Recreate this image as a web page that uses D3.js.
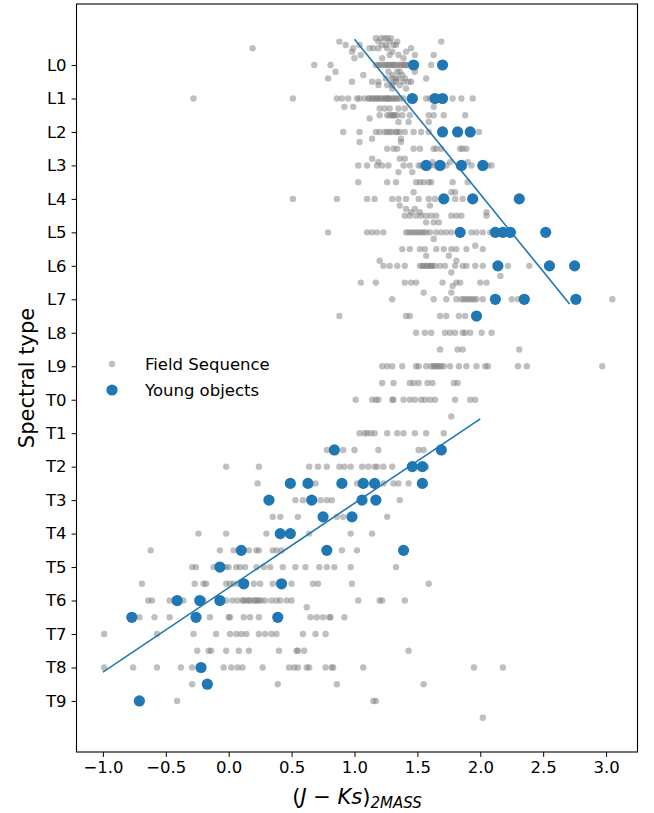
<!DOCTYPE html>
<html>
<head>
<meta charset="utf-8">
<script src="https://cdn.jsdelivr.net/npm/d3@7"></script>
<style>
  body { margin: 0; background: #fff; }
  text { font-family: "DejaVu Sans", sans-serif; }
</style>
</head>
<body>
<div id="chart"></div>
<script>
// spectral type labels, index 0 = L0 ... 19 = T9
var spectralLabels = ["L0","L1","L2","L3","L4","L5","L6","L7","L8","L9",
                      "T0","T1","T2","T3","T4","T5","T6","T7","T8","T9"];
var xTicks = [-1.0, -0.5, 0.0, 0.5, 1.0, 1.5, 2.0, 2.5, 3.0];

// field sequence: [spectral type index, list of (J-Ks) colours]
var fieldRows = [
  [-0.8, [1.17, 1.21, 1.24, 1.26, 1.29]],
  [-0.7, [0.88, 1.28, 1.34, 1.69, 1.19]],
  [-0.6, [0.93, 1.04, 1.31, 1.22, 1.25, 1.33]],
  [-0.5, [0.19, 0.99, 1.12, 1.19, 1.26, 1.45, 1.15]],
  [-0.4, [0.98, 1.41, 1.30]],
  [-0.3, [1.28, 1.35, 1.48, 1.63, 1.05]],
  [-0.2, [1.00, 1.39, 1.22]],
  [0, [0.68, 0.81, 1.17, 1.19, 1.20, 1.22, 1.24, 1.25, 1.27, 1.28, 1.30, 1.31, 1.32, 1.34, 1.36,
       1.37, 1.39, 1.40, 1.41, 1.43, 1.61]],
  [0.2, [0.85, 1.34, 1.36, 1.48, 1.27]],
  [0.3, [1.07, 1.30, 1.38]],
  [0.4, [0.79, 1.35, 1.57, 1.25, 1.30, 1.33, 1.40]],
  [0.5, [0.98, 1.14, 1.19, 1.39, 1.43, 1.45, 1.31, 1.33]],
  [0.6, [1.19, 1.26, 1.30, 1.36]],
  [0.7, [1.30, 1.41]],
  [1, [-0.28, 0.51, 0.86, 0.90, 0.95, 1.02, 1.04, 1.08, 1.11, 1.12, 1.14, 1.15, 1.17, 1.18, 1.19,
       1.21, 1.22, 1.24, 1.25, 1.26, 1.27, 1.28, 1.30, 1.31, 1.33, 1.34, 1.36, 1.39, 1.57, 1.60,
       1.78, 1.85, 1.94]],
  [1.25, [0.92, 0.99, 1.63]],
  [1.3, [1.20, 1.24, 1.28, 1.35, 1.40]],
  [1.5, [1.20, 1.26, 1.28, 1.30, 1.31, 1.32, 1.34, 1.38, 1.44, 1.59, 1.63, 1.71, 1.88]],
  [1.6, [1.12]],
  [1.7, [1.35, 1.43, 1.59]],
  [2, [0.91, 1.04, 1.17, 1.20, 1.24, 1.26, 1.28, 1.30, 1.33, 1.34, 1.36, 1.40, 1.47, 1.53, 1.59, 1.99]],
  [2.2, [1.14, 1.37]],
  [2.3, [1.04, 1.37]],
  [2.5, [1.26, 1.31, 1.47, 1.52, 1.63, 1.65, 1.69, 1.84, 1.86, 1.89, 1.34]],
  [2.8, [1.14, 1.36, 1.40]],
  [2.9, [1.19, 1.76, 1.90, 1.62]],
  [3, [1.03, 1.10, 1.18, 1.22, 1.27, 1.39, 1.44, 1.51, 1.53, 1.60, 1.64, 1.73, 1.93, 2.06, 2.09]],
  [3.2, [1.46, 1.35]],
  [3.5, [1.03, 1.26, 1.33, 1.49, 1.52, 1.55, 1.59, 1.61, 1.78, 1.90]],
  [3.8, [1.77, 1.80, 1.47]],
  [4, [0.51, 0.86, 1.10, 1.16, 1.30, 1.35, 1.41, 1.51, 1.59, 1.64, 1.80, 1.86]],
  [4.2, [1.36, 1.60]],
  [4.3, [1.41, 1.48]],
  [4.4, [1.52, 2.05, 1.45]],
  [4.5, [1.40, 1.44, 1.49, 1.53, 1.57, 1.61, 1.65, 1.77, 1.81, 1.85, 2.05]],
  [4.7, [1.57, 1.63, 1.67]],
  [5, [0.79, 1.10, 1.14, 1.18, 1.23, 1.41, 1.43, 1.45, 1.47, 1.49, 1.51, 1.53, 1.55, 1.57, 1.60,
       1.65, 1.69, 1.73, 1.77, 1.93, 1.97, 2.02, 2.08]],
  [5.2, [1.63]],
  [5.4, [1.96]],
  [5.5, [1.38, 1.44, 1.52, 1.56, 1.65, 1.71, 1.77, 1.81, 1.89, 2.02]],
  [5.7, [1.57, 1.75]],
  [5.85, [1.20, 1.81]],
  [6, [1.23, 1.28, 1.34, 1.40, 1.52, 1.54, 1.55, 1.57, 1.58, 1.60, 1.61, 1.62, 1.64, 1.68, 1.72,
       1.80, 1.86, 1.89, 1.96, 2.02, 2.22, 2.39]],
  [6.2, [1.77]],
  [6.3, [2.16]],
  [6.5, [1.05, 1.17, 1.40, 1.45, 1.49, 1.70, 1.81, 1.84, 2.00, 2.05]],
  [6.6, [1.78]],
  [6.8, [1.55, 1.77]],
  [7, [1.30, 1.63, 1.73, 1.81, 1.85, 1.87, 1.89, 1.91, 1.93, 1.95, 1.97, 2.02, 2.25, 2.30, 3.05]],
  [7.5, [0.88, 1.41, 1.44, 1.68, 1.73, 1.83, 1.88]],
  [8, [1.49, 1.56, 1.61, 1.72, 1.76, 1.80, 1.86, 1.88, 1.92, 2.01, 2.09]],
  [8.5, [1.68, 1.82, 1.86, 2.31]],
  [9, [1.22, 1.26, 1.30, 1.38, 1.49, 1.51, 1.57, 1.61, 1.63, 1.64, 1.66, 1.67, 1.69, 1.71, 1.76,
       1.83, 1.89, 1.97, 2.04, 2.06, 2.30, 2.37, 2.97]],
  [9.5, [1.22, 1.31, 1.44, 1.47, 1.51, 1.58, 1.62, 1.79, 1.82]],
  [10, [1.01, 1.14, 1.17, 1.19, 1.30, 1.31, 1.39, 1.44, 1.48, 1.53, 1.56, 1.60, 1.64, 1.80, 1.92, 1.96]],
  [10.5, [1.77]],
  [11, [1.04, 1.08, 1.10, 1.13, 1.16, 1.26, 1.34, 1.39, 1.48, 1.57, 1.71]],
  [11.5, [0.78, 0.91, 1.00, 1.19, 1.51, 1.55]],
  [12, [-0.02, 0.24, 0.64, 0.71, 0.78, 0.88, 0.92, 0.97, 1.06, 1.11, 1.16, 1.18, 1.23, 1.30, 1.57]],
  [12.5, [0.23, 0.69, 1.02, 1.23, 1.31, 1.35, 1.43]],
  [13, [0.53, 0.59, 0.73, 0.78, 0.82, 1.36]],
  [13.5, [0.35, 0.41, 0.55, 0.86, 0.91, 1.26]],
  [14, [-0.24, -0.02, 0.30, 0.64, 0.97, 1.14]],
  [14.5, [-0.62, -0.07, 0.04, 0.16, 0.22, 0.24, 0.35, 0.38, 0.42, 0.90, 1.02]],
  [15, [-0.29, -0.26, -0.12, -0.05, -0.02, 0.00, 0.06, 0.09, 0.13, 0.22, 0.28, 0.33, 0.43, 0.53,
        0.61, 0.72, 0.78, 0.84, 0.97, 1.33]],
  [15.5, [-0.69, -0.27, -0.20, -0.18, -0.02, 0.01, 0.04, 0.08, 0.13, 0.20, 0.25, 0.35, 0.50, 0.67,
          0.71, 0.98, 1.59]],
  [16, [-0.64, -0.61, -0.47, -0.36, -0.20, -0.02, 0.03, 0.07, 0.11, 0.12, 0.14, 0.16, 0.17, 0.20,
        0.21, 0.23, 0.24, 0.26, 0.29, 0.34, 0.38, 0.41, 0.46, 0.50, 1.03, 1.20, 1.22, 1.40]],
  [16.2, [0.62]],
  [16.5, [-0.71, -0.59, -0.47, -0.15, 0.00, 0.01, 0.12, 0.17, 0.24, 0.65, 0.70, 0.75, 0.80, 0.92, 0.81]],
  [17, [-0.99, -0.57, -0.28, -0.10, 0.01, 0.06, 0.10, 0.14, 0.24, 0.29, 0.34, 0.38, 0.59, 0.69, 0.77]],
  [17.5, [-0.25, -0.16, -0.14, -0.02, 0.08, 0.16, 0.40, 0.54, 0.55, 0.60, 1.43]],
  [18, [-0.99, -0.76, -0.57, -0.38, -0.29, -0.04, 0.02, 0.07, 0.11, 0.27, 0.48, 0.52, 0.55, 0.62,
        0.64, 0.77, 0.82, 0.83, 1.07, 1.95, 2.18]],
  [18.5, [-0.29, 0.39, 0.86, 1.55]],
  [19, [-0.41, 1.15, 1.17]],
  [19.5, [2.02]]
];

// young objects
var youngSpT = [0, 0, 1, 1, 1, 2, 2, 2, 3, 3, 3, 3, 4, 4, 4, 5, 5, 5, 5, 5, 6, 6, 6, 7, 7, 7, 7.5,
                11.5, 11.5, 12, 12, 12.5, 12.5, 12.5, 12.5, 12.5, 12.5, 13, 13, 13, 13, 13.5, 13.5,
                14, 14, 14.5, 14.5, 14.5, 15, 15.5, 15.5, 16, 16, 16, 16.5, 16.5, 16.5, 18, 18.5, 19];
var youngJK  = [1.47, 1.70, 1.46, 1.64, 1.70, 1.70, 1.82, 1.92, 1.57, 1.68, 1.85, 2.02, 1.71, 1.94, 2.31,
                1.84, 2.12, 2.18, 2.24, 2.52, 2.14, 2.55, 2.75, 2.12, 2.35, 2.76, 1.97,
                0.84, 1.69, 1.46, 1.54, 0.49, 0.63, 0.90, 1.07, 1.16, 1.54, 0.32, 0.66, 1.06, 1.17, 0.75, 0.98,
                0.41, 0.49, 0.10, 0.78, 1.39, -0.07, 0.12, 0.42, -0.41, -0.23, -0.07, -0.77, -0.26, 0.39,
                -0.22, -0.17, -0.71];

// linear fits (end points)
var lFitJK = [1.0, 2.71];
var lFitSpT = [-0.77, 7.14];
var tFitJK = [-1.0, 2.0];
var tFitSpT = [18.14, 10.57];

var width = 654, height = 813;
var plotLeft = 76.5, plotRight = 637.5, plotTop = 4, plotBottom = 752;
var blue = "#1f77b4";

var svg = d3.select("#chart").append("svg")
    .attr("width", width)
    .attr("height", height);

var xScale = d3.scaleLinear().domain([-1.21, 3.25]).range([plotLeft, plotRight]);
var yScale = d3.scaleLinear().domain([-1.823, 20.525]).range([plotTop, plotBottom]);

// flatten field rows
var field = [];
fieldRows.forEach(function(r) {
  r[1].forEach(function(v) { field.push({spt: r[0], jk: v}); });
});

svg.append("g")
  .selectAll("circle")
  .data(field)
  .enter().append("circle")
    .attr("cx", d => xScale(d.jk))
    .attr("cy", d => yScale(d.spt))
    .attr("r", 3.2)
    .attr("fill", "grey")
    .attr("fill-opacity", 0.5);

var young = youngJK.map((v, i) => ({jk: v, spt: youngSpT[i]}));
svg.append("g")
  .selectAll("circle")
  .data(young)
  .enter().append("circle")
    .attr("cx", d => xScale(d.jk))
    .attr("cy", d => yScale(d.spt))
    .attr("r", 5.6)
    .attr("fill", blue);

var line = d3.line().x(d => xScale(d[0])).y(d => yScale(d[1]));
[[lFitJK, lFitSpT], [tFitJK, tFitSpT]].forEach(function(f) {
  svg.append("path")
    .attr("d", line(f[0].map((v, i) => [v, f[1][i]])))
    .attr("fill", "none")
    .attr("stroke", blue)
    .attr("stroke-width", 1.6);
});

// frame
svg.append("rect")
  .attr("x", plotLeft).attr("y", plotTop)
  .attr("width", plotRight - plotLeft).attr("height", plotBottom - plotTop)
  .attr("fill", "none").attr("stroke", "black").attr("stroke-width", 1.1);

var xAxis = d3.axisBottom(xScale).tickValues(xTicks).tickFormat(d3.format(".1f"))
  .tickSize(4.9).tickPadding(4);
svg.append("g")
  .attr("transform", `translate(0,${plotBottom})`)
  .call(xAxis)
  .call(g => g.select(".domain").remove())
  .call(g => g.selectAll("text").style("font-size", "16.5px").attr("fill", "black")
              .style("font-family", "'DejaVu Sans', sans-serif"));

var yAxis = d3.axisLeft(yScale).tickValues(d3.range(20)).tickFormat(i => spectralLabels[i])
  .tickSize(4.9).tickPadding(5);
svg.append("g")
  .attr("transform", `translate(${plotLeft},0)`)
  .call(yAxis)
  .call(g => g.select(".domain").remove())
  .call(g => g.selectAll("text").style("font-size", "16.5px").attr("fill", "black")
              .style("font-family", "'DejaVu Sans', sans-serif"));

// axis labels
svg.append("text")
  .attr("transform", `translate(34,${(plotTop + plotBottom) / 2}) rotate(-90)`)
  .attr("text-anchor", "middle")
  .style("font-size", "21px")
  .text("Spectral type");

var xl = svg.append("text")
  .attr("x", (plotLeft + plotRight) / 2)
  .attr("y", 804)
  .attr("text-anchor", "middle")
  .style("font-size", "21px");
xl.append("tspan").text("(");
xl.append("tspan").style("font-style", "italic").text("J");
xl.append("tspan").text(" \u2212 ");
xl.append("tspan").style("font-style", "italic").text("Ks");
xl.append("tspan").text(")");
xl.append("tspan").attr("dy", 4).style("font-size", "15px").style("font-style", "italic").text("2MASS");

// legend
var legend = svg.append("g");
var items = [{label: "Field Sequence", r: 3.2, c: "grey", o: 0.5},
             {label: "Young objects", r: 5.6, c: blue, o: 1}];
items.forEach(function(it, i) {
  var yy = 364 + i * 26;
  legend.append("circle").attr("cx", 112).attr("cy", yy).attr("r", it.r)
    .attr("fill", it.c).attr("fill-opacity", it.o);
  legend.append("text").attr("x", 145).attr("y", yy + 6)
    .style("font-size", "16.5px").text(it.label);
});
</script>
</body>
</html>
